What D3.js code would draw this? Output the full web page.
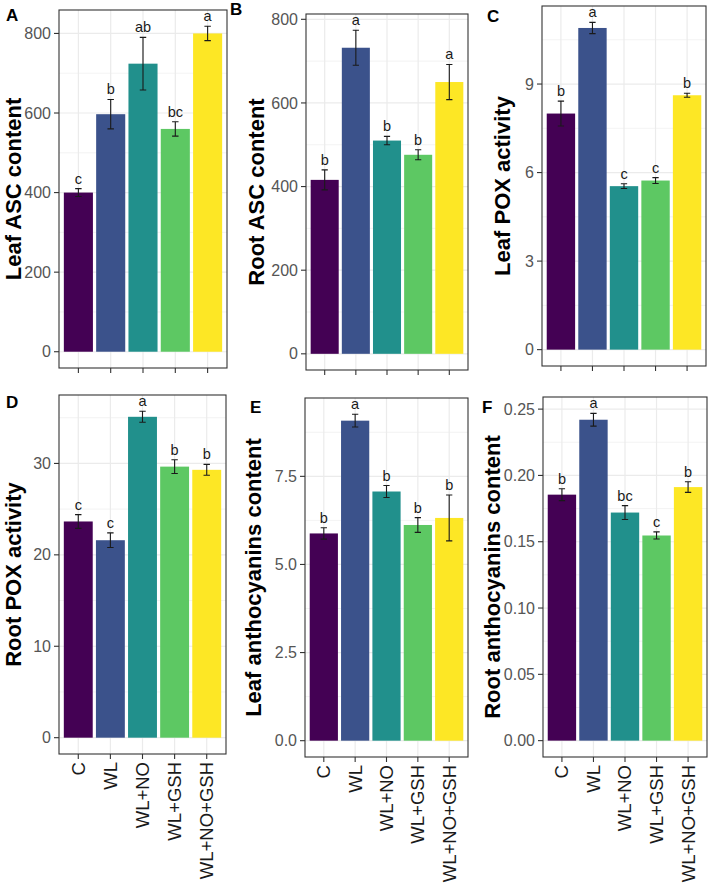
<!DOCTYPE html>
<html>
<head>
<meta charset="utf-8">
<script src="https://cdn.jsdelivr.net/npm/d3@7"></script>
<style>
  body { margin: 0; background: #fff; }
  svg { display: block; font-family: "Liberation Sans", Arial, Helvetica, sans-serif; }
</style>
</head>
<body>
<div id="chart"></div>
<script>
// Treatments and viridis fills
const groups = ['C', 'WL', 'WL+NO', 'WL+GSH', 'WL+NO+GSH'];
const fills = ['#440154', '#3B528B', '#21908C', '#5DC863', '#FDE725'];

// A - Leaf ASC content
const leafAscMean = [400, 597, 724, 560, 800];
const leafAscSe = [10, 37, 66, 18, 18];
const leafAscLetters = ['c', 'b', 'ab', 'bc', 'a'];
const leafAscTicks = [0, 200, 400, 600, 800];

// B - Root ASC content
const rootAscMean = [416, 732, 510, 476, 650];
const rootAscSe = [24, 42, 10, 12, 42];
const rootAscLetters = ['b', 'a', 'b', 'b', 'a'];
const rootAscTicks = [0, 200, 400, 600, 800];

// C - Leaf POX activity
const leafPoxMean = [8.0, 10.9, 5.54, 5.73, 8.62];
const leafPoxSe = [0.42, 0.19, 0.08, 0.1, 0.07];
const leafPoxLetters = ['b', 'a', 'c', 'c', 'b'];
const leafPoxTicks = [0, 3, 6, 9];

// D - Root POX activity
const rootPoxMean = [23.65, 21.6, 35.1, 29.65, 29.3];
const rootPoxSe = [0.75, 0.8, 0.6, 0.75, 0.6];
const rootPoxLetters = ['c', 'c', 'a', 'b', 'b'];
const rootPoxTicks = [0, 10, 20, 30];

// E - Leaf anthocyanins content
const leafAntMean = [5.88, 9.08, 7.07, 6.12, 6.32];
const leafAntSe = [0.16, 0.18, 0.17, 0.21, 0.65];
const leafAntLetters = ['b', 'a', 'b', 'b', 'b'];
const leafAntTicks = [0, 2.5, 5, 7.5];

// F - Root anthocyanins content
const rootAntMean = [0.1855, 0.242, 0.172, 0.1547, 0.1912];
const rootAntSe = [0.0045, 0.0048, 0.0052, 0.0027, 0.004];
const rootAntLetters = ['b', 'a', 'bc', 'c', 'b'];
const rootAntTicks = [0, 0.05, 0.1, 0.15, 0.2, 0.25];

const width = 709, height = 891;

const svg = d3.select('#chart').append('svg')
    .attr('width', width)
    .attr('height', height);

// panel boxes (left, top, right, bottom), label positions
const panels = [
    { tag: 'A', title: 'Leaf ASC content', mean: leafAscMean, se: leafAscSe, letters: leafAscLetters, ticks: leafAscTicks, fmt: d3.format('d'),
      box: [59, 10, 227, 368], tagPos: [6, 21], titleX: 13, xlabels: false },
    { tag: 'B', title: 'Root ASC content', mean: rootAscMean, se: rootAscSe, letters: rootAscLetters, ticks: rootAscTicks, fmt: d3.format('d'),
      box: [306, 14, 468, 370], tagPos: [230, 15], titleX: 256, xlabels: false },
    { tag: 'C', title: 'Leaf POX activity', mean: leafPoxMean, se: leafPoxSe, letters: leafPoxLetters, ticks: leafPoxTicks, fmt: d3.format('d'),
      box: [542, 6, 706, 366], tagPos: [487, 22], titleX: 502, xlabels: false },
    { tag: 'D', title: 'Root POX activity', mean: rootPoxMean, se: rootPoxSe, letters: rootPoxLetters, ticks: rootPoxTicks, fmt: d3.format('d'),
      box: [59, 395, 226, 754], tagPos: [6, 408], titleX: 13, xlabels: true },
    { tag: 'E', title: 'Leaf anthocyanins content', mean: leafAntMean, se: leafAntSe, letters: leafAntLetters, ticks: leafAntTicks, fmt: d3.format('.1f'),
      box: [305, 398, 468, 757], tagPos: [250, 413], titleX: 253, xlabels: true },
    { tag: 'F', title: 'Root anthocyanins content', mean: rootAntMean, se: rootAntSe, letters: rootAntLetters, ticks: rootAntTicks, fmt: d3.format('.2f'),
      box: [543, 397, 707, 757], tagPos: [482, 413], titleX: 492, xlabels: true }
];

panels.forEach(drawPanel);

function drawPanel(p) {
    const [x0, y0, x1, y1] = p.box;
    const g = svg.append('g');

    const top = d3.max(p.mean.map((m, i) => m + p.se[i]));
    const y = d3.scaleLinear()
        .domain([-0.05 * top, 1.05 * top])
        .range([y1, y0]);
    const x = d3.scalePoint()
        .domain(groups)
        .range([x0, x1])
        .padding(0.6);
    const bw = x.step() * 0.9;
    const ew = x.step() * 0.2;

    // minor grid: halfway between major ticks
    const step = p.ticks[1] - p.ticks[0];
    const minor = [];
    for (let v = p.ticks[0] + step / 2; v < y.domain()[1]; v += step) minor.push(v);

    g.append('g').selectAll('line')
        .data(minor)
        .join('line')
        .attr('x1', x0).attr('x2', x1)
        .attr('y1', d => y(d)).attr('y2', d => y(d))
        .attr('stroke', '#EBEBEB')
        .attr('stroke-width', 0.6);

    g.append('g').selectAll('line')
        .data(p.ticks)
        .join('line')
        .attr('x1', x0).attr('x2', x1)
        .attr('y1', d => y(d)).attr('y2', d => y(d))
        .attr('stroke', '#EBEBEB')
        .attr('stroke-width', 1.2);

    g.append('g').selectAll('line')
        .data(groups)
        .join('line')
        .attr('x1', d => x(d)).attr('x2', d => x(d))
        .attr('y1', y0).attr('y2', y1)
        .attr('stroke', '#EBEBEB')
        .attr('stroke-width', 1.2);

    // bars
    g.append('g').selectAll('rect')
        .data(groups)
        .join('rect')
        .attr('x', d => x(d) - bw / 2)
        .attr('width', bw)
        .attr('y', (d, i) => y(p.mean[i]))
        .attr('height', (d, i) => y(0) - y(p.mean[i]))
        .attr('fill', (d, i) => fills[i]);

    // error bars
    const eb = g.append('g')
        .attr('stroke', '#1a1a1a')
        .attr('stroke-width', 1.1)
        .attr('fill', 'none');
    groups.forEach((d, i) => {
        const cx = x(d);
        const hi = y(p.mean[i] + p.se[i]);
        const lo = y(p.mean[i] - p.se[i]);
        eb.append('path')
            .attr('d', `M${cx - ew / 2},${hi}H${cx + ew / 2}M${cx},${hi}V${lo}M${cx - ew / 2},${lo}H${cx + ew / 2}`);
    });

    // significance letters
    g.append('g').selectAll('text')
        .data(groups)
        .join('text')
        .attr('x', d => x(d))
        .attr('y', (d, i) => y(p.mean[i] + p.se[i]) - 5)
        .attr('text-anchor', 'middle')
        .attr('font-size', 14.5)
        .attr('fill', '#1a1a1a')
        .text((d, i) => p.letters[i]);

    // panel border
    g.append('rect')
        .attr('x', x0).attr('y', y0)
        .attr('width', x1 - x0).attr('height', y1 - y0)
        .attr('fill', 'none')
        .attr('stroke', '#333')
        .attr('stroke-width', 1.1);

    // y axis ticks and labels
    const ya = g.append('g');
    ya.selectAll('line')
        .data(p.ticks)
        .join('line')
        .attr('x1', x0 - 5).attr('x2', x0)
        .attr('y1', d => y(d)).attr('y2', d => y(d))
        .attr('stroke', '#333')
        .attr('stroke-width', 1.1);
    ya.selectAll('text')
        .data(p.ticks)
        .join('text')
        .attr('x', x0 - 8)
        .attr('y', d => y(d))
        .attr('dy', '0.35em')
        .attr('text-anchor', 'end')
        .attr('font-size', 16)
        .attr('fill', '#555')
        .text(d => p.fmt(d));

    // x axis ticks
    const xa = g.append('g');
    xa.selectAll('line')
        .data(groups)
        .join('line')
        .attr('x1', d => x(d)).attr('x2', d => x(d))
        .attr('y1', y1).attr('y2', y1 + 5)
        .attr('stroke', '#333')
        .attr('stroke-width', 1.1);
    if (p.xlabels) {
        xa.selectAll('text')
            .data(groups)
            .join('text')
            .attr('transform', d => `translate(${x(d)},${y1 + 8}) rotate(-90)`)
            .attr('dy', '0.35em')
            .attr('text-anchor', 'end')
            .attr('font-size', 18.5)
            .attr('fill', '#1a1a1a')
            .text(d => d);
    }

    // y axis title
    g.append('text')
        .attr('transform', `translate(${p.titleX},${(y0 + y1) / 2}) rotate(-90)`)
        .attr('dy', '0.35em')
        .attr('text-anchor', 'middle')
        .attr('font-size', 22)
        .attr('font-weight', 'bold')
        .attr('fill', '#000')
        .text(p.title);

    // panel tag
    svg.append('text')
        .attr('x', p.tagPos[0])
        .attr('y', p.tagPos[1])
        .attr('font-size', 17)
        .attr('font-weight', 'bold')
        .attr('fill', '#000')
        .text(p.tag);
}
</script>
</body>
</html>
